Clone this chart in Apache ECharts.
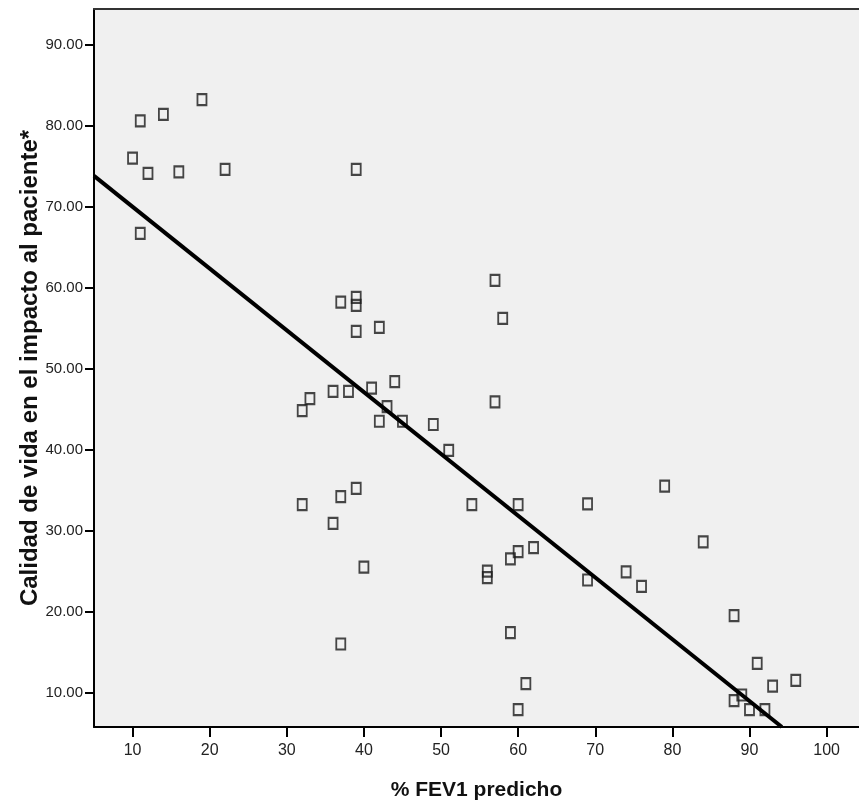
<!DOCTYPE html>
<html>
<head>
<meta charset="utf-8">
<script src="https://cdn.jsdelivr.net/npm/echarts@6/dist/echarts.min.js"></script>
<style>
  html, body { margin: 0; padding: 0; background: #fff; }
  #chart { width: 859px; height: 803px; }
</style>
</head>
<body>
<div id="chart"></div>
<script>
// % FEV1 predicho (x) vs calidad de vida (y), one entry per patient
var fev1 = [19, 14, 11, 10, 12, 16, 22, 11, 39, 57,
  37, 39, 39, 58, 42, 39, 44, 41, 36, 38,
  33, 32, 57, 43, 42, 45, 49, 51, 39, 37,
  32, 54, 60, 36, 62, 60, 59, 56, 56, 40,
  59, 37, 61, 60, 79, 69, 84, 69, 74, 76,
  88, 91, 96, 93, 89, 88, 90, 92];
var calidad = [83.2, 81.4, 80.6, 76.0, 74.1, 74.3, 74.6, 66.7, 74.6, 60.9,
  58.2, 58.8, 57.8, 56.2, 55.1, 54.6, 48.4, 47.6, 47.2, 47.2,
  46.3, 44.8, 45.9, 45.3, 43.5, 43.5, 43.1, 39.9, 35.2, 34.2,
  33.2, 33.2, 33.2, 30.9, 27.9, 27.4, 26.5, 25.0, 24.2, 25.5,
  17.4, 16.0, 11.1, 7.9, 35.5, 33.3, 28.6, 23.9, 24.9, 23.1,
  19.5, 13.6, 11.5, 10.8, 9.7, 9.0, 7.9, 7.9];

// fit line end points
var fitX = [5, 94.2];
var fitY = [73.8, 5.75];

var xTicks = [10, 20, 30, 40, 50, 60, 70, 80, 90, 100];
var yTicks = [10, 20, 30, 40, 50, 60, 70, 80, 90];

var points = [];
for (var i = 0; i < fev1.length; i++) {
  points.push([fev1[i], calidad[i]]);
}
var fitLine = [];
for (var j = 0; j < fitX.length; j++) {
  fitLine.push([fitX[j], fitY[j]]);
}

var chart = echarts.init(document.getElementById('chart'));
var font = 'Arial, "Liberation Sans", sans-serif';

var option = {
  backgroundColor: '#fff',
  animation: false,
  grid: {
    left: 94,
    right: 0,
    top: 9,
    bottom: 76,
    outerBoundsMode: 'none',
    show: true,
    backgroundColor: '#f0f0f0',
    borderWidth: 0
  },
  xAxis: [{
    type: 'value',
    min: 5,
    max: 104.2,
    name: '% FEV1 predicho',
    nameLocation: 'middle',
    nameGap: 53,
    nameMoveOverlap: false,
    nameTextStyle: { fontFamily: font, fontWeight: 'bold', fontSize: 21, color: '#111' },
    splitLine: { show: false },
    axisLine: { lineStyle: { color: '#000', width: 2 } },
    axisTick: { show: true, length: 10, lineStyle: { color: '#000', width: 2 }, customValues: xTicks },
    axisLabel: { customValues: xTicks, margin: 16, fontFamily: font, fontSize: 16, color: '#222' }
  }, {
    // top frame line only
    type: 'value',
    position: 'top',
    min: 5,
    max: 104.2,
    splitLine: { show: false },
    axisLine: { show: true, lineStyle: { color: '#333', width: 2 } },
    axisTick: { show: false },
    axisLabel: { show: false }
  }],
  yAxis: {
    type: 'value',
    min: 5.75,
    max: 94.4,
    name: 'Calidad de vida en el impacto al paciente*',
    nameLocation: 'middle',
    nameGap: 52,
    nameMoveOverlap: false,
    nameTextStyle: { fontFamily: font, fontWeight: 'bold', fontSize: 24, color: '#111' },
    splitLine: { show: false },
    axisLine: { show: true, lineStyle: { color: '#000', width: 2 } },
    axisTick: { show: true, length: 9, lineStyle: { color: '#000', width: 2 }, customValues: yTicks },
    axisLabel: {
      customValues: yTicks,
      margin: 11,
      fontFamily: font,
      fontSize: 15,
      color: '#222',
      formatter: function (v) { return v.toFixed(2); }
    }
  },
  series: [
    {
      type: 'scatter',
      data: points,
      symbol: 'rect',
      symbolSize: [9, 11],
      itemStyle: { color: 'rgba(0,0,0,0)', borderColor: '#1a1a1a', borderWidth: 2 },
      z: 2
    },
    {
      type: 'line',
      data: fitLine,
      symbol: 'none',
      clip: true,
      lineStyle: { color: '#000', width: 4 },
      z: 3
    }
  ]
};
chart.setOption(option);
</script>
</body>
</html>
